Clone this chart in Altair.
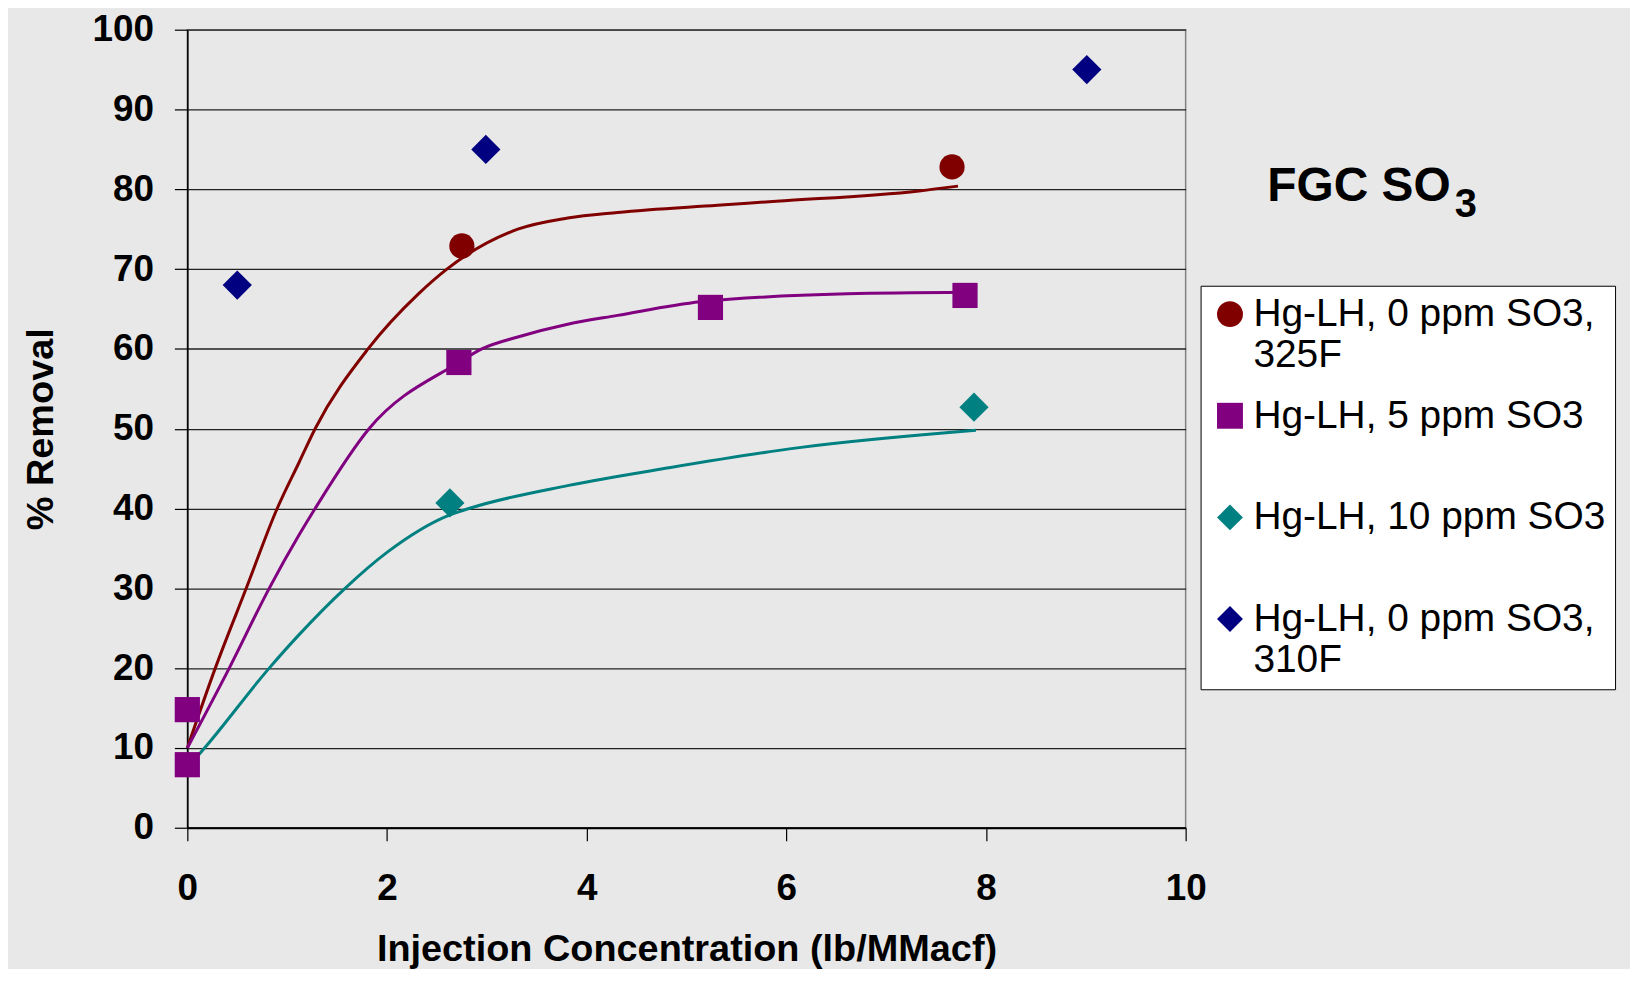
import altair as alt
import pandas as pd

# ---------------- data ----------------
series_names = [
    "Hg-LH, 0 ppm SO3, 325F",
    "Hg-LH, 5 ppm SO3",
    "Hg-LH, 10 ppm SO3",
    "Hg-LH, 0 ppm SO3, 310F",
]
series_colors = ["#800000", "#800080", "#008080", "#000080"]
series_shapes = ["circle", "square", "diamond", "diamond"]

# measured points
red_pts_x = [2.75, 7.66]
red_pts_y = [72.9, 82.8]
purple_pts_x = [0.0, 0.0, 2.72, 5.24, 7.79]
purple_pts_y = [14.8, 7.9, 58.3, 65.2, 66.7]
teal_pts_x = [2.63, 7.88]
teal_pts_y = [40.7, 52.7]
navy_pts_x = [0.5, 2.99, 9.01]
navy_pts_y = [68.0, 85.0, 95.0]

# trend curves
red_curve_x = [0, 0.28, 0.59, 0.90, 1.12, 1.28, 1.81, 2.315, 2.60, 3.31, 3.81, 4.31, 5.31, 5.9, 7.33, 7.72]
red_curve_y = [10, 20, 30, 40, 45.8, 50, 60, 66.9, 70, 75.0, 76.4, 77.1, 78.0, 78.5, 79.8, 80.4]
purple_curve_x = [0, 0.42, 0.82, 1.12, 1.28, 1.82, 2.72, 2.95, 3.31, 3.81, 4.31, 5.14, 6.61, 7.8]
purple_curve_y = [10, 20, 30, 36.7, 40, 50, 58.3, 60, 61.5, 63.1, 64.2, 65.9, 66.9, 67.1]
teal_curve_x = [0, 0.2, 0.82, 1.12, 1.58, 2.0, 2.63, 2.82, 3.82, 4.82, 6.11, 7.9]
teal_curve_y = [7.5, 10.4, 20, 24.2, 30, 34.5, 39.2, 40, 42.9, 45.1, 47.6, 49.8]

x_ticks = [0, 2, 4, 6, 8, 10]
y_ticks = [0, 10, 20, 30, 40, 50, 60, 70, 80, 90, 100]

x_title = "Injection Concentration (lb/MMacf)"
y_title = "% Removal"
title_main = "FGC SO"
title_sub = "3"

# ---------------- frames ----------------
round_pts = pd.DataFrame({
    "x": red_pts_x + purple_pts_x,
    "y": red_pts_y + purple_pts_y,
    "series": [series_names[0]] * len(red_pts_x) + [series_names[1]] * len(purple_pts_x),
})
diamond_pts = pd.DataFrame({
    "x": teal_pts_x + navy_pts_x,
    "y": teal_pts_y + navy_pts_y,
    "series": [series_names[2]] * len(teal_pts_x) + [series_names[3]] * len(navy_pts_x),
})
curves = pd.DataFrame({
    "x": red_curve_x + purple_curve_x + teal_curve_x,
    "y": red_curve_y + purple_curve_y + teal_curve_y,
    "series": [series_names[0]] * len(red_curve_x)
    + [series_names[1]] * len(purple_curve_x)
    + [series_names[2]] * len(teal_curve_x),
})

FONT = "Liberation Sans"

x_enc = alt.X(
    "x:Q",
    scale=alt.Scale(domain=[0, 10], nice=False, zero=False),
    axis=alt.Axis(
        values=x_ticks, title=x_title, grid=False, format="d", labelFlush=False,
        tickSize=13, tickColor="black", tickWidth=1.2,
        domainColor="black", domainWidth=2,
        labelFont=FONT, labelFontSize=37, labelFontWeight="bold", labelColor="black",
        labelPadding=30,
        titleFont=FONT, titleFontSize=38, titleFontWeight="bold", titleColor="black",
        titlePadding=24,
    ),
)
y_enc = alt.Y(
    "y:Q",
    scale=alt.Scale(domain=[0, 100], nice=False),
    axis=alt.Axis(
        values=y_ticks, title=y_title, grid=True, gridColor="#222222", gridWidth=1.3,
        labelFlush=False,
        tickSize=13, tickColor="black", tickWidth=1.2,
        domainColor="black", domainWidth=1.6,
        labelFont=FONT, labelFontSize=37, labelFontWeight="bold", labelColor="black",
        labelPadding=21,
        titleFont=FONT, titleFontSize=38, titleFontWeight="bold", titleColor="black",
        titlePadding=32,
    ),
)

legend = alt.Legend(
    title=None, orient="none", legendX=1017, legendY=257,
    fillColor="white", strokeColor="black", padding=9,
    symbolOffset=1, labelOffset=4, symbolSize=676,
    labelFont=FONT, labelFontSize=39, labelColor="black",
    labelLimit=600, rowPadding=21,
    labelExpr="length(datum.label) > 20 ? [slice(datum.label, 0, 17), slice(datum.label, 18)] : [datum.label, '']",
)

color_scale = alt.Scale(domain=series_names, range=series_colors)
shape_scale = alt.Scale(domain=series_names, range=series_shapes)

# curves: own stroke scale (3 series only) so its hidden legend does not merge
lines = alt.Chart(curves).mark_line(strokeWidth=3, interpolate="monotone").encode(
    x=x_enc, y=y_enc,
    stroke=alt.Stroke("series:N", scale=alt.Scale(domain=series_names[:3], range=series_colors[:3]), legend=None),
)

pts_round = alt.Chart(round_pts).mark_point(filled=True, opacity=1, size=640).encode(
    x="x:Q", y="y:Q",
    color=alt.Color("series:N", scale=color_scale, legend=legend),
    shape=alt.Shape("series:N", scale=shape_scale, legend=legend),
)
pts_diamond = alt.Chart(diamond_pts).mark_point(filled=True, opacity=1, size=860).encode(
    x="x:Q", y="y:Q",
    color=alt.Color("series:N", scale=color_scale, legend=legend),
    shape=alt.Shape("series:N", scale=shape_scale, legend=legend),
)

title_df = pd.DataFrame({"main": [title_main], "sub": [title_sub]})
t_main = alt.Chart(title_df).mark_text(
    font=FONT, fontSize=48, fontWeight="bold", align="left", baseline="alphabetic", color="black"
).encode(text="main:N", x=alt.value(1084), y=alt.value(172))
t_sub = alt.Chart(title_df).mark_text(
    font=FONT, fontSize=40, fontWeight="bold", align="left", baseline="alphabetic", color="black"
).encode(text="sub:N", x=alt.value(1272), y=alt.value(188))

chart = alt.layer(lines, pts_round, pts_diamond, t_main, t_sub).properties(
    width=1002, height=801,
    autosize=alt.AutoSizeParams(type="none"),
    padding={"left": 180, "top": 20, "right": 446, "bottom": 140},
    background="#e8e8e8",
).configure_view(stroke="#808080", strokeWidth=1.5)

chart.save("out.html", embed_options={"renderer": "svg", "actions": False})
